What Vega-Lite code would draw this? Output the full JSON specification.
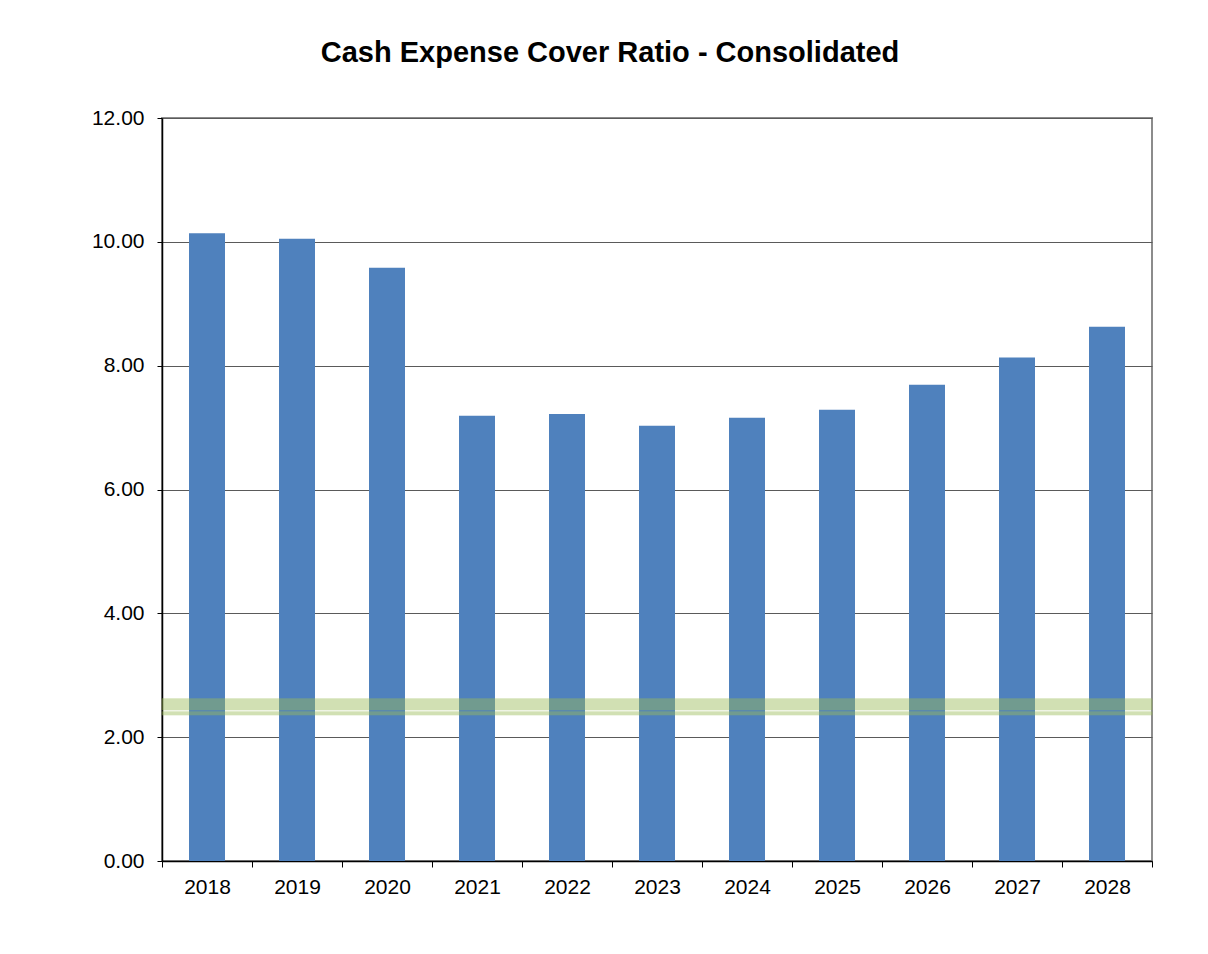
{
  "$schema": "https://vega.github.io/schema/vega-lite/v6.json",
  "width": 990,
  "height": 743,
  "autosize": {"type": "none"},
  "padding": {"left": 162, "top": 118, "right": 56, "bottom": 93},
  "background": "white",
  "title": {
    "text": "Cash Expense Cover Ratio - Consolidated",
    "font": "Liberation Sans",
    "fontSize": 29,
    "fontWeight": "bold",
    "color": "black",
    "anchor": "middle",
    "dx": -47,
    "baseline": "alphabetic",
    "offset": 16
  },
  "config": {
    "view": {"stroke": "#8c8c8c", "strokeWidth": 2},
    "axis": {
      "labelFont": "Liberation Sans",
      "labelFontSize": 21,
      "labelColor": "black",
      "domainColor": "black",
      "tickColor": "black",
      "titleFontSize": 0
    }
  },
  "datasets": {
    "bars": [
      {"year": "2018", "ratio": 10.14},
      {"year": "2019", "ratio": 10.05},
      {"year": "2020", "ratio": 9.58},
      {"year": "2021", "ratio": 7.19},
      {"year": "2022", "ratio": 7.22},
      {"year": "2023", "ratio": 7.03},
      {"year": "2024", "ratio": 7.16},
      {"year": "2025", "ratio": 7.29},
      {"year": "2026", "ratio": 7.69},
      {"year": "2027", "ratio": 8.13},
      {"year": "2028", "ratio": 8.63}
    ],
    "bands": [
      {"lo": 2.44, "hi": 2.62},
      {"lo": 2.36, "hi": 2.41}
    ]
  },
  "layer": [
    {
      "data": {"name": "bars"},
      "mark": {"type": "bar", "color": "#4f81bd", "width": {"band": 0.4}},
      "encoding": {
        "x": {
          "field": "year",
          "type": "nominal",
          "title": null,
          "scale": {"paddingInner": 0, "paddingOuter": 0},
          "axis": {
            "labelAngle": 0,
            "tickBand": "extent",
            "tickSize": 6,
            "labelPadding": 9,
            "domainWidth": 1.5,
            "grid": false
          }
        },
        "y": {
          "field": "ratio",
          "type": "quantitative",
          "title": null,
          "scale": {"domain": [0, 12], "nice": false},
          "axis": {
            "values": [0, 2, 4, 6, 8, 10, 12],
            "format": ".2f",
            "tickSize": 5,
            "labelPadding": 13,
            "domainWidth": 1.5,
            "grid": true,
            "gridColor": "#5a5a5a",
            "gridWidth": 1
          }
        }
      }
    },
    {
      "data": {"name": "bands"},
      "mark": {"type": "rect", "color": "#9bbb59", "opacity": 0.45, "stroke": "#9bbb59", "strokeWidth": 1, "strokeOpacity": 0.8},
      "encoding": {
        "y": {"field": "lo", "type": "quantitative"},
        "y2": {"field": "hi"}
      }
    }
  ]
}
